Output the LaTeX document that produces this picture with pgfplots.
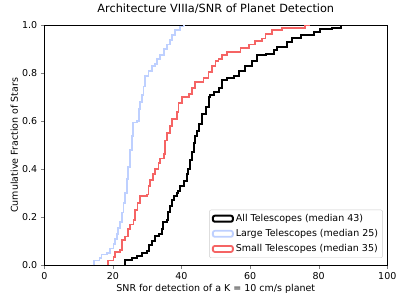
\documentclass[border=0pt]{standalone}
\usepackage{pgfplots}
\pgfplotsset{compat=1.18}
\usepackage{fontspec}
\setmainfont{DejaVu Sans}
\definecolor{cblue}{RGB}{190,208,255}
\definecolor{cred}{RGB}{245,100,100}
\begin{document}
\begin{tikzpicture}
\begin{axis}[
  at={(0,0)}, anchor=south west,
  scale only axis,
  width=343pt, height=240pt,
  xmin=0, xmax=100, ymin=0, ymax=1,
  xtick={0,20,40,60,80,100},
  ytick={0,0.2,0.4,0.6,0.8,1.0},
  yticklabel style={/pgf/number format/.cd,fixed,fixed zerofill,precision=1},
  /pgf/number format/assume math mode=true,
  tick label style={font=\fontsize{9.5}{11}\selectfont},
  tick pos=left,
  tick align=outside,
  major tick length=3.5pt,
  axis line style={line width=0.8pt},
  title={Architecture VIIIa/SNR of Planet Detection},
  title style={at={(0.5,1)}, anchor=base, yshift=6.3pt, font=\fontsize{11.3}{13}\selectfont},
  xlabel={SNR for detection of a K = 10 cm/s planet},
  xlabel style={at={(0.5,0)}, anchor=base, yshift=-26.7pt, font=\fontsize{9.5}{11}\selectfont},
  ylabel={Cumulative Fraction of Stars},
  every axis y label/.style={at={([xshift=-26.3pt]axis description cs:0,0.5)}, rotate=90, anchor=base, font=\fontsize{9.5}{11}\selectfont},
  legend style={at={(1,0)}, anchor=south east, xshift=-4.5pt, yshift=7.3pt,
    draw=black!20, rounded corners=2pt, font=\fontsize{9.5}{11}\selectfont,
    row sep=2.4pt, inner sep=2.5pt},
  legend cell align=left,
  legend image code/.code={\draw[#1] (0pt,-3pt) rectangle (20pt,3pt);},
]
\addplot[const plot mark left, black, line width=2pt] coordinates {
(23.6,0) (23.6,0.022) (25.5,0.03) (27,0.04) (28.4,0.05) (30,0.06) (30.4,0.085) (31.4,0.10) (32.3,0.12) (33.5,0.13) (34.3,0.15) (34.5,0.18) (35.7,0.19) (36.2,0.22) (36.7,0.245) (37.2,0.27) (37.7,0.29) (38.7,0.30) (39.1,0.31) (39.6,0.33) (40.6,0.35) (41.6,0.38) (42,0.40) (42.5,0.44) (43,0.47) (43.5,0.51) (44,0.54) (44.5,0.56) (45,0.59) (46,0.63) (47,0.66) (48,0.70) (48.4,0.71) (49.4,0.72) (50.8,0.74) (51.8,0.77) (53.3,0.78) (55.2,0.79) (56.7,0.81) (58.6,0.83) (60.6,0.85) (62,0.875) (64.5,0.88) (66.9,0.895) (67.9,0.91) (70.8,0.93) (72.2,0.945) (74.7,0.96) (78.6,0.97) (80.5,0.985) (83.9,0.99) (86.4,1.0) (86.6,1.0)
};
\addlegendentry{All Telescopes (median 43)}
\addplot[const plot mark left, cblue, line width=1.8pt] coordinates {
(14.6,0) (14.6,0.02) (16.1,0.03) (16.7,0.045) (18.2,0.05) (19.2,0.07) (20.2,0.09) (20.6,0.11) (21.1,0.13) (21.6,0.155) (22.1,0.18) (22.6,0.22) (23.1,0.26) (23.6,0.30) (24.1,0.36) (24.5,0.41) (25,0.48) (25.5,0.54) (25.8,0.595) (27,0.60) (27.5,0.65) (28,0.68) (28.4,0.71) (28.9,0.745) (29.4,0.79) (30.4,0.81) (31.4,0.83) (32.3,0.84) (32.8,0.86) (33.8,0.875) (34.8,0.90) (35.7,0.92) (36.7,0.94) (37.2,0.96) (38.2,0.98) (39.6,0.995) (40.6,1.0) (40.8,1.0)
};
\addlegendentry{Large Telescopes (median 25)}
\addplot[const plot mark left, cred, line width=1.8pt] coordinates {
(18.5,0) (18.5,0.02) (20.2,0.035) (20.6,0.055) (22.1,0.065) (22.6,0.105) (23.6,0.12) (24.5,0.15) (25,0.17) (26,0.19) (26.5,0.23) (27.2,0.26) (27.9,0.29) (30,0.295) (30.4,0.33) (30.9,0.355) (31.8,0.38) (32.3,0.40) (33.3,0.425) (33.8,0.445) (34.8,0.465) (35.2,0.52) (35.7,0.55) (36.7,0.58) (37.2,0.61) (38.7,0.64) (39.1,0.675) (40.1,0.70) (42.1,0.715) (43,0.74) (44,0.765) (46.4,0.78) (47.9,0.805) (48.9,0.83) (49.9,0.85) (50.8,0.86) (51.8,0.875) (53.3,0.89) (57.2,0.905) (59.6,0.92) (61.5,0.935) (63.5,0.945) (64.5,0.965) (66.5,0.98) (69.3,0.99) (76.1,1.0) (77.6,1.0)
};
\addlegendentry{Small Telescopes (median 35)}
\end{axis}
\path[use as bounding box] (-44.3pt,-39.7pt) rectangle (362.7pt,265.3pt);
\end{tikzpicture}
\end{document}
